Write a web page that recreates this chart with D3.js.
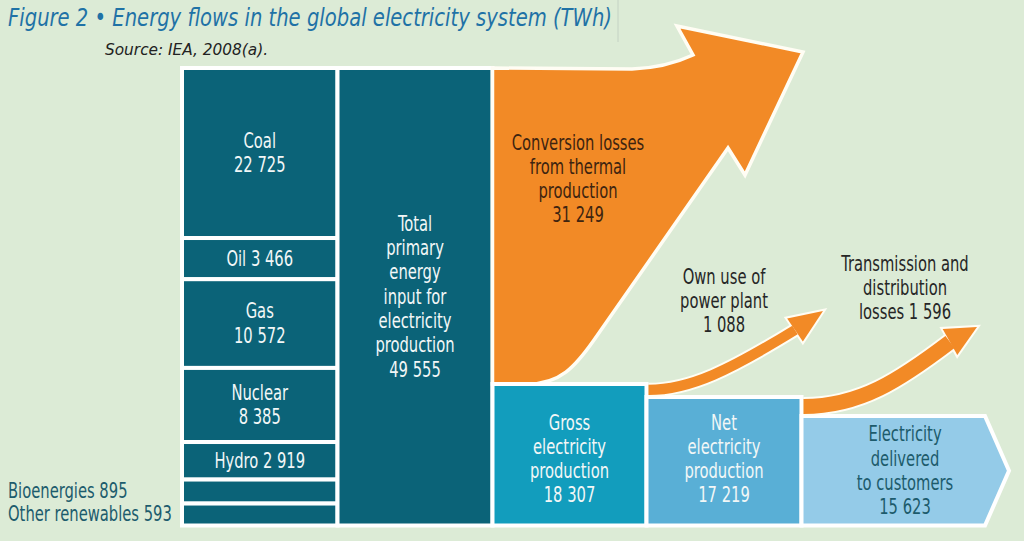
<!DOCTYPE html>
<html>
<head>
<meta charset="utf-8">
<script src="https://cdn.jsdelivr.net/npm/d3@7"></script>
<style>
  html, body { margin: 0; padding: 0; background: #dcebd6; }
  svg { display: block; }
  text { font-family: "Liberation Sans Narrow", "DejaVu Sans Condensed", "Roboto Condensed", sans-serif; }
</style>
</head>
<body>
<svg id="chart"></svg>
<script>
// --- Data (TWh, IEA 2008) ---
const sources = ["Coal", "Oil", "Gas", "Nuclear", "Hydro", "Bioenergies", "Other renewables"];
const sourceValues = [22725, 3466, 10572, 8385, 2919, 895, 593];
const totalPrimary = 49555;
const conversionLosses = 31249;
const stages = ["Gross\nelectricity\nproduction", "Net\nelectricity\nproduction", "Electricity\ndelivered\nto customers"];
const stageValues = [18307, 17219, 15623];
const lossNames = ["Own use of\npower plant\n", "Transmission and\ndistribution\nlosses "];
const lossValues = [1088, 1596];

const width = 1024, height = 541;
const svg = d3.select("#chart").attr("width", width).attr("height", height);

const fmt = d3.formatLocale({ decimal: ".", thousands: " ", grouping: [3], currency: ["", ""] }).format(",d");

// --- Colours ---
const c = {
  bg: "#dcebd6", teal: "#0b6378", orange: "#f28a26", gross: "#129dbd",
  net: "#59afd6", delivered: "#94cbe8", white: "#ffffff", title: "#1f72a6"
};

svg.append("rect").attr("width", width).attr("height", height).attr("fill", c.bg);

// --- Layout ---
const yTop = 68, yBottom = 525.5;
const colX = [182, 337.5, 492.5, 646.5, 801.5, 985];
const minH = 18, lh = 24.3;
const gap = 4;
const squeeze = 0.8; // horizontal condensing of label text

// left column: heights from a linear scale plus a minimum height
const hScale = d3.scaleLinear()
  .domain([0, d3.sum(sourceValues)])
  .range([0, (yBottom - yTop) - minH * sourceValues.length]);
let acc = yTop;
const srcBoxes = sources.map((name, i) => {
  const h = minH + hScale(sourceValues[i]);
  const b = { name, value: sourceValues[i], y: acc, h };
  acc += h;
  return b;
});

// stage box heights
const stageScale = d3.scaleLinear()
  .domain([d3.min(stageValues), d3.max(stageValues)])
  .range([109.5, 141.5]);
const stageTops = stageValues.map(v => yBottom - stageScale(v));

// loss arrow thickness
const thick = d3.scaleLinear().domain([0, d3.max(lossValues)]).range([0, 15]);

const g = svg.append("g");

// --- Left source boxes ---
g.selectAll("rect.src").data(srcBoxes).enter().append("rect")
  .attr("class", "src")
  .attr("x", colX[0]).attr("y", d => d.y)
  .attr("width", colX[1] - colX[0]).attr("height", d => d.h)
  .attr("fill", c.teal).attr("stroke", c.white).attr("stroke-width", gap);

// total column
g.append("rect")
  .attr("x", colX[1]).attr("y", yTop)
  .attr("width", colX[2] - colX[1]).attr("height", yBottom - yTop)
  .attr("fill", c.teal).attr("stroke", c.white).attr("stroke-width", gap);

// --- Big conversion-loss arrow ---
const x0 = colX[2], yb = stageTops[0];
const bigArrow = `M${x0},${yTop} L632,${yTop + 1} C660,${yTop} 678,62 693,55 L677,26 L803,52 L745,175 L728,148
  L594,340 C575,367 560,${yb} 528,${yb} L${x0},${yb} Z`;
g.append("path").attr("d", bigArrow)
  .attr("fill", c.orange).attr("stroke", "#fffdf4").attr("stroke-width", 3.5).attr("stroke-linejoin", "miter");

// --- Stage boxes ---
const stageFill = [c.gross, c.net, c.delivered];
stageValues.forEach((v, i) => {
  const xL = colX[2 + i], xR = colX[3 + i], yT = stageTops[i];
  let d;
  if (i < 2) {
    d = `M${xL},${yT} H${xR} V${yBottom} H${xL} Z`;
  } else {
    const yMid = (yT + yBottom) / 2;
    d = `M${xL},${yT} H${xR} L${xR + 24},${yMid} L${xR},${yBottom} H${xL} Z`;
  }
  g.append("path").attr("d", d)
    .attr("fill", stageFill[i]).attr("stroke", c.white).attr("stroke-width", gap);
});

// --- Small loss arrows ---
const lossGeom = [
  { x: colX[3] + 2, curve: (x, y) => `M${x},${y} C690,${y} 730,370 795,330`, tip: [823, 311], base: [795, 330], half: 14 },
  { x: colX[4] + 2, curve: (x, y) => `M${x},${y} C860,${y} 900,380 950,342`, tip: [977, 327], base: [950, 342], half: 15 }
];
const arrows = lossValues.map((v, i) => {
  const t = thick(v);
  const yCenter = stageTops[i + 1] - gap / 2 - t / 2;
  const gm = lossGeom[i];
  const dx = gm.tip[0] - gm.base[0], dy = gm.tip[1] - gm.base[1];
  const len = Math.hypot(dx, dy);
  const px = -dy / len * gm.half, py = dx / len * gm.half;
  const head = `M${gm.base[0] + px},${gm.base[1] + py} L${gm.tip[0]},${gm.tip[1]} L${gm.base[0] - px},${gm.base[1] - py} Z`;
  return { t, shaft: gm.curve(gm.x, yCenter), head };
});
// outline layer
arrows.forEach(a => {
  g.append("path").attr("d", a.shaft).attr("fill", "none")
    .attr("stroke", "#fffdf4").attr("stroke-width", a.t + 4);
  g.append("path").attr("d", a.head).attr("fill", "#fffdf4")
    .attr("stroke", "#fffdf4").attr("stroke-width", 4).attr("stroke-linejoin", "miter");
});
// fill layer
arrows.forEach(a => {
  g.append("path").attr("d", a.shaft).attr("fill", "none")
    .attr("stroke", c.orange).attr("stroke-width", a.t);
  g.append("path").attr("d", a.head).attr("fill", c.orange);
});

// --- Labels ---
function lines(sel, arr, x, yCenter, color, size, anchor) {
  const t = sel.append("text").attr("text-anchor", anchor || "middle")
    .attr("transform", `translate(${x},0) scale(${squeeze},1)`)
    .attr("fill", color).attr("font-size", size);
  arr.forEach((s, k) => {
    t.append("tspan").attr("x", 0)
      .attr("y", yCenter - (arr.length - 1) * lh / 2 + k * lh + 7)
      .text(s);
  });
  return t;
}

const leftCx = (colX[0] + colX[1]) / 2;
srcBoxes.forEach(b => {
  const cy = b.y + b.h / 2;
  if (b.h > 60) lines(g, [b.name, fmt(b.value)], leftCx, cy, "#f2f7f7", 20.5);
  else if (b.h > 30) lines(g, [b.name + " " + fmt(b.value)], leftCx, cy, "#f2f7f7", 20.5);
  else lines(g, [b.name + " " + fmt(b.value)], 8, cy - 0.5, "#1d5c6d", 20.5, "start");
});

lines(g, ["Total", "primary", "energy", "input for", "electricity", "production", fmt(totalPrimary)],
  (colX[1] + colX[2]) / 2, (yTop + yBottom) / 2, "#f2f7f7", 20.5);

lines(g, ["Conversion losses", "from thermal", "production", fmt(conversionLosses)],
  578, 179, "#3e2410", 20.5);

stages.forEach((s, i) => {
  const arr = s.split("\n").concat([fmt(stageValues[i])]);
  const cx = (colX[2 + i] + colX[3 + i]) / 2;
  const cy = i < 2 ? 459 : (stageTops[i] + yBottom) / 2;
  lines(g, arr, i < 2 ? cx : 905, cy, i < 2 ? "#f2f7f7" : "#1d5b6c", 20.5);
});

const lossLabelPos = [[724, 301], [905, 288]];
lossNames.forEach((s, i) => {
  const arr = s.split("\n");
  arr[arr.length - 1] = arr[arr.length - 1] + fmt(lossValues[i]);
  lines(g, arr, lossLabelPos[i][0], lossLabelPos[i][1], "#262626", 20.5);
});

// --- Title and source ---
svg.append("text").attr("x", 8).attr("y", 26)
  .attr("fill", c.title).attr("font-size", 25).attr("font-style", "italic")
  .attr("textLength", 604).attr("lengthAdjust", "spacingAndGlyphs")
  .text("Figure 2 \u2022 Energy flows in the global electricity system (TWh)");
svg.append("line").attr("x1", 618).attr("x2", 618).attr("y1", 0).attr("y2", 42)
  .attr("stroke", "#c4d2c4").attr("stroke-width", 1);
svg.append("text").attr("x", 105).attr("y", 55)
  .attr("fill", "#222").attr("font-size", 15).attr("font-style", "italic")
  .attr("textLength", 163).attr("lengthAdjust", "spacingAndGlyphs")
  .text("Source: IEA, 2008(a).");
</script>
</body>
</html>
